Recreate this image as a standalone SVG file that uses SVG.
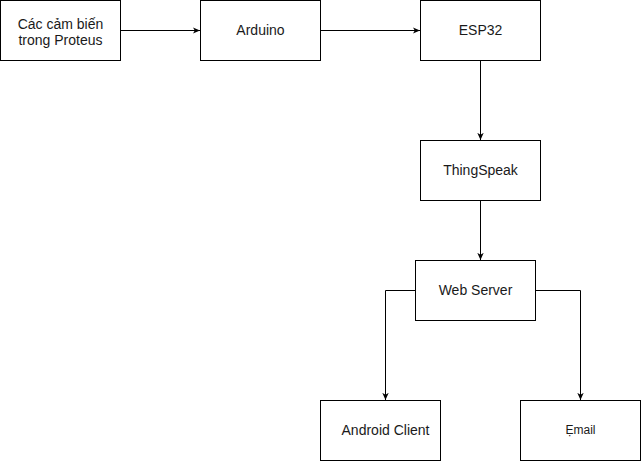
<svg xmlns="http://www.w3.org/2000/svg" width="642" height="462" viewBox="0 0 642 462">
<style>
.box{fill:#fff;stroke:#000;stroke-width:1}
.t{font-family:"Liberation Sans",Arial,sans-serif;font-size:14px;fill:#1a1a1a;text-anchor:middle}
.e{font-size:12px}
.c{fill:none;stroke:#000;stroke-width:1}
</style>
<defs>
<marker id="a" viewBox="0 0 10 10" refX="9" refY="5" markerWidth="8" markerHeight="8" markerUnits="userSpaceOnUse" orient="auto">
<path d="M0,1 L9,5 L0,9 L2.5,5 Z" fill="#000"/>
</marker>
</defs>
<rect width="642" height="462" fill="#fff"/>
<g id="connectors">
<path class="c" d="M120.5,30.5 H200" marker-end="url(#a)"/>
<path class="c" d="M320.5,30.5 H420" marker-end="url(#a)"/>
<path class="c" d="M480.5,60.5 V140" marker-end="url(#a)"/>
<path class="c" d="M480.5,200.5 V260" marker-end="url(#a)"/>
<path class="c" d="M415.5,290.5 H385.5 V400" marker-end="url(#a)"/>
<path class="c" d="M535.5,290.5 H580.5 V400" marker-end="url(#a)"/>
</g>
<g id="sensors"><rect class="box" x="0.5" y="0.5" width="120" height="60"/><text class="t" x="60.5" y="28.5">Các cảm biến</text><text class="t" x="60.5" y="44.5">trong Proteus</text></g>
<g id="arduino"><rect class="box" x="200.5" y="0.5" width="120" height="60"/><text class="t" x="260.5" y="35">Arduino</text></g>
<g id="esp32"><rect class="box" x="420.5" y="0.5" width="120" height="60"/><text class="t" x="480.5" y="35">ESP32</text></g>
<g id="thingspeak"><rect class="box" x="420.5" y="140.5" width="120" height="60"/><text class="t" x="480.5" y="175">ThingSpeak</text></g>
<g id="webserver"><rect class="box" x="415.5" y="260.5" width="120" height="60"/><text class="t" x="475.5" y="295">Web Server</text></g>
<g id="android"><rect class="box" x="320.5" y="400.5" width="120" height="60"/><text class="t" x="385.5" y="435">Android Client</text></g>
<g id="email"><rect class="box" x="520.5" y="400.5" width="120" height="60"/><text class="t e" x="580.5" y="434">Ẹmail</text></g>
</svg>
